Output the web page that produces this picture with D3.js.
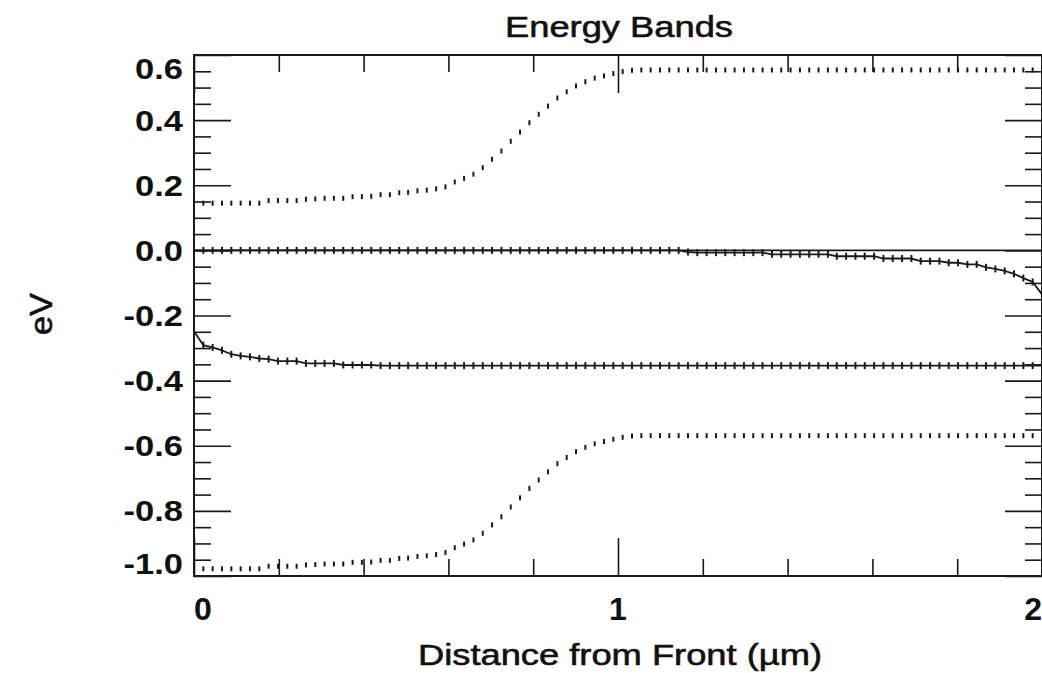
<!DOCTYPE html>
<html>
<head>
<meta charset="utf-8">
<title>Energy Bands</title>
<script src="https://d3js.org/d3.v7.min.js"></script>
<style>
  body { margin: 0; background: #fff; overflow: hidden; }
  svg text { font-family: 'Liberation Sans', Arial, sans-serif; fill: #111; }
  .label { stroke: #111; stroke-width: 0.6px; }
</style>
</head>
<body>
<script>
// mesh positions (um)
var meshX = [
  0.000, 0.022, 0.044, 0.066, 0.088, 0.110, 0.132, 0.154, 0.176, 0.198,
  0.220, 0.242, 0.264, 0.286, 0.308, 0.330, 0.352, 0.374, 0.396, 0.418,
  0.440, 0.462, 0.484, 0.505, 0.527, 0.549, 0.571, 0.593, 0.615, 0.637,
  0.659, 0.681, 0.703, 0.725, 0.747, 0.769, 0.791, 0.813, 0.835, 0.857,
  0.879, 0.901, 0.923, 0.945, 0.967, 0.989, 1.011, 1.033, 1.055, 1.077,
  1.099, 1.121, 1.143, 1.165, 1.187, 1.209, 1.231, 1.253, 1.275, 1.297,
  1.319, 1.341, 1.363, 1.385, 1.407, 1.429, 1.451, 1.473, 1.495, 1.516,
  1.538, 1.560, 1.582, 1.604, 1.626, 1.648, 1.670, 1.692, 1.714, 1.736,
  1.758, 1.780, 1.802, 1.824, 1.846, 1.868, 1.890, 1.912, 1.934, 1.956,
  1.978, 2.000
];

// conduction band edge (eV)
var ecBand = [
  0.145, 0.145, 0.145, 0.145, 0.145, 0.145, 0.145, 0.145, 0.153, 0.153,
  0.153, 0.153, 0.157, 0.158, 0.160, 0.160, 0.160, 0.165, 0.165, 0.166,
  0.171, 0.171, 0.177, 0.178, 0.183, 0.185, 0.189, 0.195, 0.210, 0.221,
  0.234, 0.254, 0.280, 0.305, 0.335, 0.363, 0.392, 0.418, 0.443, 0.468,
  0.487, 0.505, 0.518, 0.529, 0.536, 0.543, 0.549, 0.553, 0.554, 0.554,
  0.554, 0.554, 0.554, 0.554, 0.554, 0.554, 0.554, 0.554, 0.554, 0.554,
  0.554, 0.554, 0.554, 0.554, 0.554, 0.554, 0.554, 0.554, 0.554, 0.554,
  0.554, 0.554, 0.554, 0.554, 0.554, 0.554, 0.554, 0.554, 0.554, 0.554,
  0.554, 0.554, 0.554, 0.554, 0.554, 0.554, 0.554, 0.554, 0.554, 0.554,
  0.554, 0.554
];

// valence band edge (eV)
var evBand = [
  -0.978, -0.978, -0.978, -0.978, -0.978, -0.978, -0.978, -0.978, -0.970, -0.970,
  -0.970, -0.970, -0.966, -0.965, -0.963, -0.963, -0.963, -0.958, -0.958, -0.957,
  -0.952, -0.952, -0.946, -0.945, -0.940, -0.938, -0.934, -0.928, -0.913, -0.902,
  -0.889, -0.869, -0.843, -0.818, -0.788, -0.760, -0.731, -0.705, -0.680, -0.655,
  -0.636, -0.618, -0.605, -0.594, -0.587, -0.580, -0.574, -0.570, -0.569, -0.569,
  -0.569, -0.569, -0.569, -0.569, -0.569, -0.569, -0.569, -0.569, -0.569, -0.569,
  -0.569, -0.569, -0.569, -0.569, -0.569, -0.569, -0.569, -0.569, -0.569, -0.569,
  -0.569, -0.569, -0.569, -0.569, -0.569, -0.569, -0.569, -0.569, -0.569, -0.569,
  -0.569, -0.569, -0.569, -0.569, -0.569, -0.569, -0.569, -0.569, -0.569, -0.569,
  -0.569, -0.569
];

// electron quasi-Fermi level (eV)
var efn = [
  0, 0, 0, 0, 0, 0, 0, 0, 0, 0,
  0, 0, 0, 0, 0, 0, 0, 0, 0, 0,
  0, 0, 0, 0, 0, 0, 0, 0, 0, 0,
  0, 0, 0, 0, 0, 0, 0, 0, 0, 0,
  0, 0, 0, 0, 0, 0, 0, 0, 0, 0,
  0, 0, 0, -0.005, -0.007, -0.007, -0.007, -0.007, -0.007, -0.007,
  -0.007, -0.007, -0.012, -0.012, -0.012, -0.012, -0.012, -0.012, -0.012, -0.018,
  -0.018, -0.018, -0.018, -0.018, -0.025, -0.025, -0.025, -0.025, -0.033, -0.033,
  -0.033, -0.038, -0.038, -0.043, -0.043, -0.052, -0.057, -0.063, -0.072, -0.085,
  -0.097, -0.135
];

// hole quasi-Fermi level (eV)
var efp = [
  -0.248, -0.291, -0.298, -0.307, -0.319, -0.324, -0.327, -0.332, -0.334, -0.340,
  -0.340, -0.340, -0.347, -0.347, -0.347, -0.347, -0.352, -0.352, -0.352, -0.352,
  -0.354, -0.354, -0.354, -0.354, -0.354, -0.354, -0.354, -0.354, -0.354, -0.354,
  -0.354, -0.354, -0.354, -0.354, -0.354, -0.354, -0.354, -0.354, -0.354, -0.354,
  -0.354, -0.354, -0.354, -0.354, -0.354, -0.354, -0.354, -0.354, -0.354, -0.354,
  -0.354, -0.354, -0.354, -0.354, -0.354, -0.354, -0.354, -0.354, -0.354, -0.354,
  -0.354, -0.354, -0.354, -0.354, -0.354, -0.354, -0.354, -0.354, -0.354, -0.354,
  -0.354, -0.354, -0.354, -0.354, -0.354, -0.354, -0.354, -0.354, -0.354, -0.354,
  -0.354, -0.354, -0.354, -0.354, -0.354, -0.354, -0.354, -0.354, -0.354, -0.354,
  -0.354, -0.354
];

// equilibrium Fermi level
var fermiX = [0, 2];
var fermiE = [0, 0];

var xTickValues = [0, 1, 2];
var xTickLabels = ['0', '1', '2'];
var xMinorValues = [0.2, 0.4, 0.6, 0.8, 1.2, 1.4, 1.6, 1.8];
var yTickValues = [0.6, 0.4, 0.2, 0.0, -0.2, -0.4, -0.6, -0.8, -1.0];
var yTickLabels = ['0.6', '0.4', '0.2', '0.0', '-0.2', '-0.4', '-0.6', '-0.8', '-1.0'];
var yMinorValues = [0.55, 0.5, 0.45, 0.35, 0.3, 0.25, 0.15, 0.1, 0.05,
  -0.05, -0.1, -0.15, -0.25, -0.3, -0.35, -0.45, -0.5, -0.55,
  -0.65, -0.7, -0.75, -0.85, -0.9, -0.95];

var W = 1042, H = 673;
var plot = {left: 194, right: 1042, top: 55, bottom: 576};
var ink = '#1a1a1a';

var x = d3.scaleLinear().domain([0, 2]).range([plot.left, plot.right]);
var y = d3.scaleLinear().domain([-1.0, 0.6]).range([plot.bottom, plot.top]);

var svg = d3.select('body').append('svg')
  .attr('width', W)
  .attr('height', H);

// stretch text to a wider look like the original bitmap font
function stretch(sel, k) {
  sel.each(function() {
    var len = this.getComputedTextLength();
    d3.select(this).attr('textLength', len * k).attr('lengthAdjust', 'spacingAndGlyphs');
  });
}

// ticks on all four sides, pointing inward
function ticks(axis, vals, len, tr) {
  var g = svg.append('g').attr('transform', tr)
    .call(axis.tickValues(vals).tickSize(-len).tickSizeOuter(0).tickFormat(''));
  g.select('.domain').remove();
  g.selectAll('line').attr('stroke', ink).attr('stroke-width', 1.6);
}
ticks(d3.axisLeft(y), yMinorValues, 17, 'translate(' + plot.left + ',0)');
ticks(d3.axisLeft(y), yTickValues, 37, 'translate(' + plot.left + ',0)');
ticks(d3.axisRight(y), yMinorValues, 17, 'translate(' + plot.right + ',0)');
ticks(d3.axisRight(y), yTickValues, 37, 'translate(' + plot.right + ',0)');
ticks(d3.axisBottom(x), xMinorValues, 17, 'translate(0,' + plot.bottom + ')');
ticks(d3.axisBottom(x), xTickValues, 38, 'translate(0,' + plot.bottom + ')');
ticks(d3.axisTop(x), xMinorValues, 17, 'translate(0,' + plot.top + ')');
ticks(d3.axisTop(x), xTickValues, 38, 'translate(0,' + plot.top + ')');

svg.append('rect')
  .attr('x', plot.left).attr('y', plot.top)
  .attr('width', plot.right - plot.left).attr('height', plot.bottom - plot.top)
  .attr('fill', 'none').attr('stroke', ink).attr('stroke-width', 2);

// zero (Fermi) line
var line2 = d3.line().x(function(d) { return x(d[0]); }).y(function(d) { return y(d[1]); });
svg.append('path')
  .attr('d', line2(d3.zip(fermiX, fermiE)))
  .attr('fill', 'none').attr('stroke', ink).attr('stroke-width', 1.8);

// quasi-Fermi levels: line with + markers
[efn, efp].forEach(function(vals) {
  var pts = d3.zip(meshX, vals);
  svg.append('path')
    .attr('d', line2(pts))
    .attr('fill', 'none').attr('stroke', ink).attr('stroke-width', 1.8);
  svg.append('g').selectAll('line')
    .data(pts)
    .enter().append('line')
    .attr('x1', function(d) { return x(d[0]); })
    .attr('x2', function(d) { return x(d[0]); })
    .attr('y1', function(d) { return y(d[1]) - 3.5; })
    .attr('y2', function(d) { return y(d[1]) + 3.5; })
    .attr('stroke', ink).attr('stroke-width', 2);
});

// band edges: dotted markers only
[ecBand, evBand].forEach(function(vals) {
  svg.append('g').selectAll('rect')
    .data(d3.zip(meshX, vals))
    .enter().append('rect')
    .attr('x', function(d) { return x(d[0]) - 1; })
    .attr('y', function(d) { return y(d[1]) - 2.5; })
    .attr('width', 2)
    .attr('height', 5)
    .attr('fill', ink);
});

// y tick labels (edge labels pulled inside the frame)
svg.append('g').selectAll('text')
  .data(yTickValues)
  .enter().append('text')
  .text(function(d, i) { return yTickLabels[i]; })
  .attr('x', 183)
  .attr('y', function(d) {
    var c = y(d);
    c = Math.max(plot.top + 13, Math.min(plot.bottom - 13, c));
    return c + 10.5;
  })
  .attr('text-anchor', 'end')
  .attr('font-size', '30px')
  .attr('font-weight', 'bold')
  .call(stretch, 1.15);

// x tick labels
svg.append('g').selectAll('text')
  .data(xTickValues)
  .enter().append('text')
  .text(function(d, i) { return xTickLabels[i]; })
  .attr('x', function(d) { return x(d); })
  .attr('y', 620)
  .attr('text-anchor', function(d, i) { return i == 0 ? 'start' : (i == 2 ? 'end' : 'middle'); })
  .attr('font-size', '32px')
  .attr('font-weight', 'bold');

// titles
svg.append('text')
  .attr('class', 'label')
  .text('Energy Bands')
  .attr('x', 619).attr('y', 37)
  .attr('text-anchor', 'middle')
  .attr('font-size', '30px')
  .attr('textLength', 228).attr('lengthAdjust', 'spacingAndGlyphs');

svg.append('text')
  .attr('class', 'label')
  .text('Distance from Front (µm)')
  .attr('x', 620).attr('y', 665)
  .attr('text-anchor', 'middle')
  .attr('font-size', '30px')
  .attr('textLength', 404).attr('lengthAdjust', 'spacingAndGlyphs');

svg.append('text')
  .attr('class', 'label')
  .text('eV')
  .attr('transform', 'translate(52,314) rotate(-90)')
  .attr('text-anchor', 'middle')
  .attr('font-size', '31px')
  .attr('textLength', 42).attr('lengthAdjust', 'spacingAndGlyphs');
</script>
</body>
</html>
